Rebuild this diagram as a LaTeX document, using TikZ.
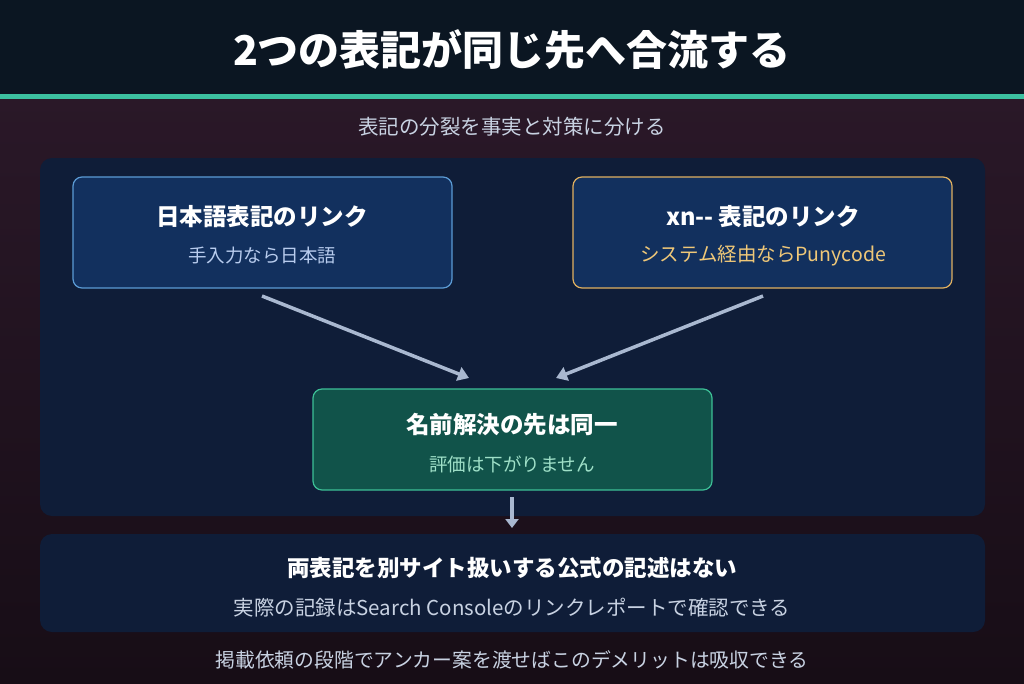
\documentclass[tikz,border=0pt]{standalone}
\usepackage{fontspec}
\setmainfont{Noto Sans CJK JP}
\usetikzlibrary{arrows.meta}
\definecolor{topbg}{HTML}{0B1622}
\definecolor{teal}{HTML}{3CC0A0}
\definecolor{bgA}{HTML}{2A1828}
\definecolor{bgB}{HTML}{170D16}
\definecolor{panel}{HTML}{0F1D38}
\definecolor{boxb}{HTML}{12305E}
\definecolor{edgeb}{HTML}{5B9BD5}
\definecolor{edgey}{HTML}{E0B060}
\definecolor{boxg}{HTML}{11534A}
\definecolor{edgeg}{HTML}{3DBF96}
\definecolor{arr}{HTML}{A9B8D0}
\definecolor{sub}{HTML}{C8D2E2}
\definecolor{subb}{HTML}{B8CCEE}
\definecolor{suby}{HTML}{F0C878}
\definecolor{subg}{HTML}{9FE0C8}
\tikzset{
 box/.style={rounded corners=9pt,line width=1.2pt},
 ttl/.style={text=white,font=\bfseries\fontsize{23.5}{27}\selectfont},
 st/.style={font=\fontsize{18.5}{22}\selectfont},
 con/.style={draw=arr,line width=3.5pt,-{Triangle[length=11pt,width=14pt]}}
}
\begin{document}
\begin{tikzpicture}[x=1pt,y=-1pt]
\useasboundingbox (0,0) rectangle (1024,683);
\shade[top color=bgA,bottom color=bgB] (0,95) rectangle (1024,683);
\fill[topbg] (0,0) rectangle (1024,95);
\fill[teal] (0,94) rectangle (1024,99);
\node[text=white,font=\bfseries\fontsize{41}{46}\selectfont] (title) at (512,50) {2つの表記が同じ先へ合流する};
\node[text=sub,font=\fontsize{20.5}{24}\selectfont] (subtitle) at (512,127) {表記の分裂を事実と対策に分ける};
\fill[panel,rounded corners=12pt] (40,158) rectangle (985,516);
\draw[box,fill=boxb,draw=edgeb] (73,177) rectangle (452,288);
\node[ttl] (lt) at (262,217) {日本語表記のリンク};
\node[st,text=subb] (ls) at (262,256) {手入力なら日本語};
\draw[box,fill=boxb,draw=edgey] (573,177) rectangle (952,288);
\node[ttl] (rt) at (763,217) {xn{-}{-} 表記のリンク};
\node[st,text=suby,font=\fontsize{19.5}{22}\selectfont] (rs) at (763,256) {システム経由ならPunycode};
\draw[box,fill=boxg,draw=edgeg] (313,389) rectangle (712,490);
\node[ttl] (gt) at (512,425) {名前解決の先は同一};
\node[st,text=subg] (gs) at (512,464) {評価は下がりません};
\coordinate (a1) at (262,296); \coordinate (a2) at (469,378);
\coordinate (b1) at (763,296); \coordinate (b2) at (556,378);
\coordinate (c1) at (512,497); \coordinate (c2) at (512,528);
\draw[con] (a1) -- (a2);
\draw[con] (b1) -- (b2);
\draw[con,-{Triangle[length=9pt,width=13pt]}] (c1) -- (c2);
\fill[panel,rounded corners=12pt] (40,534) rectangle (985,632);
\node[ttl,font=\bfseries\fontsize{22.5}{26}\selectfont] (bt) at (512,568) {両表記を別サイト扱いする公式の記述はない};
\node[st,text=sub,font=\fontsize{20.5}{24}\selectfont] (bs) at (512,608) {実際の記録はSearch Consoleのリンクレポートで確認できる};
\node[text=sub,font=\fontsize{19.8}{23}\selectfont] (foot) at (512,660) {掲載依頼の段階でアンカー案を渡せばこのデメリットは吸収できる};
\end{tikzpicture}
\end{document}
